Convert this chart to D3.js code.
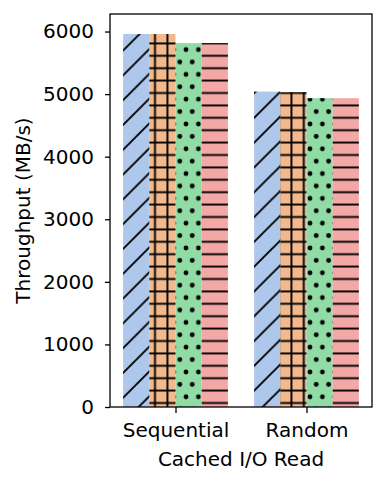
<!DOCTYPE html>
<html>
<head>
<meta charset="utf-8">
<script src="https://cdn.jsdelivr.net/npm/d3@7"></script>
<style>
  body { margin: 0; background: #fff; }
  svg { display: block; }
  text { font-family: "DejaVu Sans", sans-serif; fill: #000; }
</style>
</head>
<body>
<svg id="canvas"></svg>
<script>
const categories = ['Sequential', 'Random'];
const seriesNames = ['s1', 's2', 's3', 's4'];
const s1 = [5960, 5040];
const s2 = [5960, 5032];
const s3 = [5815, 4935];
const s4 = [5815, 4935];
const yTicks = [0, 1000, 2000, 3000, 4000, 5000, 6000];
const colors = ['#aec8ec', '#f2b98e', '#90dca4', '#f3a8a6'];
const hatchIds = ['hatch-diag', 'hatch-grid', 'hatch-dots', 'hatch-horiz'];

const width = 390;
const height = 486;
const padLeft = 110, padRight = 372, padTop = 14, padBottom = 407;
const fontSize = 20;

const canvas = d3.select('#canvas')
    .attr('width', width)
    .attr('height', height);

// hatch patterns, anchored to page like matplotlib
const defs = canvas.append('defs');
const P = 12.4;
const hatchWidth = 1.9;

let pat = defs.append('pattern').attr('id', 'hatch-diag')
    .attr('patternUnits', 'userSpaceOnUse')
    .attr('width', 2 * P).attr('height', 2 * P);
pat.append('path')
    .attr('d', `M-3,${2 * P + 3} L${2 * P + 3},-3 M-3,3 L3,-3 M${2 * P - 3},${2 * P + 3} L${2 * P + 3},${2 * P - 3}`)
    .attr('stroke', '#000').attr('stroke-width', hatchWidth);

pat = defs.append('pattern').attr('id', 'hatch-grid')
    .attr('patternUnits', 'userSpaceOnUse')
    .attr('width', P).attr('height', P);
pat.append('path')
    .attr('d', `M${P / 2},0 V${P} M0,${P / 2} H${P}`)
    .attr('stroke', '#000').attr('stroke-width', hatchWidth);

pat = defs.append('pattern').attr('id', 'hatch-dots')
    .attr('patternUnits', 'userSpaceOnUse')
    .attr('width', P).attr('height', 2 * P);
[[0, 0], [P, 0], [0, 2 * P], [P, 2 * P], [P / 2, P]].forEach(d => {
    pat.append('circle').attr('cx', d[0]).attr('cy', d[1]).attr('r', 2.4).attr('fill', '#000');
});

pat = defs.append('pattern').attr('id', 'hatch-horiz')
    .attr('patternUnits', 'userSpaceOnUse')
    .attr('width', P).attr('height', P);
pat.append('path')
    .attr('d', `M0,${P / 2} H${P}`)
    .attr('stroke', '#000').attr('stroke-width', hatchWidth);

const xScale = d3.scalePoint()
    .domain(categories)
    .range([padLeft, padRight])
    .padding(0.5);

const step = xScale.step();
const inner = d3.scaleBand()
    .domain(seriesNames)
    .range([-0.4 * step, 0.4 * step]);

const yScale = d3.scaleLinear()
    .domain([0, 6280])
    .range([padBottom, padTop]);

const allSeries = [s1, s2, s3, s4];
const bars = [];
allSeries.forEach((vals, si) => {
    vals.forEach((v, ci) => {
        bars.push({ series: seriesNames[si], si: si, cat: categories[ci], value: v });
    });
});

const g = canvas.append('g');

g.selectAll('rect.bar')
    .data(bars)
    .enter()
    .append('rect')
    .attr('class', 'bar')
    .attr('x', d => xScale(d.cat) + inner(d.series))
    .attr('width', inner.bandwidth())
    .attr('y', d => yScale(d.value))
    .attr('height', d => padBottom - yScale(d.value))
    .attr('fill', d => colors[d.si]);

g.selectAll('rect.hatch')
    .data(bars)
    .enter()
    .append('rect')
    .attr('class', 'hatch')
    .attr('x', d => xScale(d.cat) + inner(d.series))
    .attr('width', inner.bandwidth())
    .attr('y', d => yScale(d.value))
    .attr('height', d => padBottom - yScale(d.value))
    .attr('fill', d => 'url(#' + hatchIds[d.si] + ')');

// axes
const yAxis = d3.axisLeft(yScale)
    .tickValues(yTicks)
    .tickSize(5)
    .tickPadding(11)
    .tickFormat(d3.format('d'));

const xAxis = d3.axisBottom(xScale)
    .tickSize(6)
    .tickPadding(10);

const ya = canvas.append('g')
    .attr('transform', 'translate(' + padLeft + ',0)')
    .call(yAxis);

const xa = canvas.append('g')
    .attr('transform', 'translate(0,' + padBottom + ')')
    .call(xAxis);

[ya, xa].forEach(a => {
    a.select('.domain').remove();
    a.selectAll('line').attr('stroke', '#000').attr('stroke-width', 1.3);
    a.selectAll('text')
        .style('font-family', '"DejaVu Sans", sans-serif')
        .style('font-size', fontSize + 'px')
        .attr('fill', '#000');
});

canvas.append('rect')
    .attr('x', padLeft)
    .attr('y', padTop)
    .attr('width', padRight - padLeft)
    .attr('height', padBottom - padTop)
    .attr('fill', 'none')
    .attr('stroke', '#000')
    .attr('stroke-width', 1.3);

canvas.append('text')
    .attr('x', (padLeft + padRight) / 2)
    .attr('y', 466)
    .attr('text-anchor', 'middle')
    .style('font-size', fontSize + 'px')
    .text('Cached I/O Read');

canvas.append('text')
    .attr('transform', 'translate(30,' + ((padTop + padBottom) / 2) + ') rotate(-90)')
    .attr('text-anchor', 'middle')
    .style('font-size', fontSize + 'px')
    .text('Throughput (MB/s)');
</script>
</body>
</html>
